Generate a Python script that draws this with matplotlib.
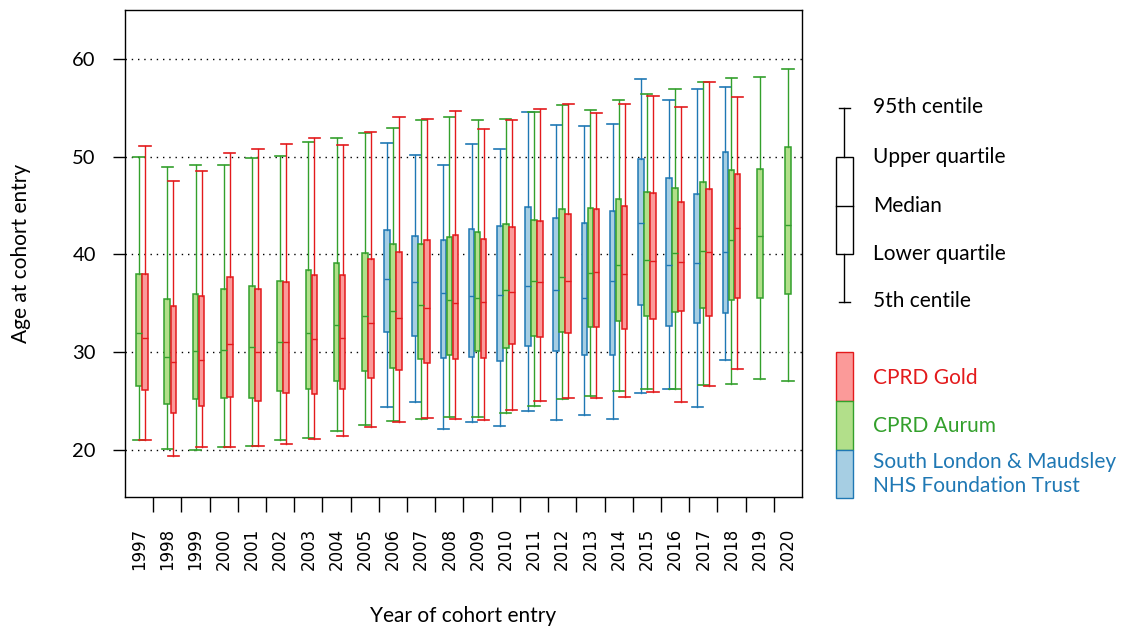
import matplotlib
matplotlib.use("Agg")
import matplotlib.pyplot as plt
from matplotlib.patches import Rectangle

years = list(range(1997, 2021))

# 5th centile, lower quartile, median, upper quartile, 95th centile by year
gold_years = list(range(1997, 2019))
gold_p95 = [51.1, 47.5, 48.5, 50.4, 50.8, 51.3, 51.9, 51.2, 52.5, 54.05, 53.9,
            54.7, 52.8, 53.8, 54.9, 55.35, 54.5, 55.4, 56.2, 55.1, 57.6, 56.1]
gold_q3 = [38.0, 34.7, 35.8, 37.7, 36.5, 37.2, 37.9, 37.9, 39.5, 40.3, 41.5,
           42.0, 41.55, 42.8, 43.4, 44.1, 44.6, 45.0, 46.3, 45.4, 46.7, 48.25]
gold_med = [31.5, 29.0, 29.2, 30.8, 30.0, 31.0, 31.4, 31.5, 33.0, 33.5, 34.5,
            35.0, 35.1, 36.2, 37.2, 37.3, 38.2, 38.0, 39.3, 39.2, 40.25, 42.7]
gold_q1 = [26.1, 23.8, 24.5, 25.4, 25.0, 25.85, 25.75, 26.2, 27.4, 28.2, 28.9,
           29.3, 29.4, 30.8, 31.6, 32.0, 32.6, 32.4, 33.4, 34.2, 33.7, 35.6]
gold_p5 = [21.0, 19.4, 20.3, 20.3, 20.4, 20.6, 21.1, 21.4, 22.4, 22.9, 23.3,
           23.15, 23.1, 24.1, 25.0, 25.3, 25.3, 25.45, 25.9, 24.9, 26.5, 28.3]

aurum_years = list(range(1997, 2021))
aurum_p95 = [50.0, 48.9, 49.1, 49.2, 49.9, 50.1, 51.5, 51.9, 52.4, 52.9, 53.8, 54.1,
             53.75, 53.9, 54.6, 55.25, 54.8, 55.75, 56.45, 56.9, 57.6, 58.0, 58.1, 59.0]
aurum_q3 = [38.0, 35.4, 36.0, 36.5, 36.8, 37.3, 38.4, 39.1, 40.1, 41.1, 41.1, 41.8,
            42.3, 43.1, 43.5, 44.6, 44.8, 45.7, 46.4, 46.75, 47.4, 48.6, 48.7, 51.0]
aurum_med = [32.0, 29.5, 30.1, 30.2, 30.5, 31.0, 32.0, 32.8, 33.7, 34.2, 34.8, 35.3,
             35.6, 36.4, 37.3, 37.7, 38.1, 38.9, 39.4, 40.1, 40.4, 41.45, 41.9, 43.0]
aurum_q1 = [26.5, 24.75, 25.2, 25.3, 25.3, 26.0, 26.2, 27.1, 28.1, 28.4, 29.3, 29.7,
            30.15, 30.4, 31.65, 32.1, 32.6, 33.2, 33.7, 34.15, 34.55, 35.3, 35.6, 36.0]
aurum_p5 = [21.0, 20.1, 20.0, 20.3, 20.4, 21.0, 21.2, 22.0, 22.6, 23.0, 23.2, 23.4,
            23.35, 23.8, 24.5, 25.2, 25.5, 26.0, 26.2, 26.25, 26.7, 26.8, 27.3, 27.1]

slam_years = list(range(2006, 2019))
slam_p95 = [51.4, 50.2, 49.2, 51.3, 50.8, 54.6, 53.2, 53.1, 53.3, 57.95, 55.75, 56.9, 57.1]
slam_q3 = [42.5, 41.9, 41.5, 42.6, 42.9, 44.9, 43.7, 43.2, 44.4, 49.8, 47.8, 46.2, 50.5]
slam_med = [37.5, 37.2, 36.1, 35.8, 35.9, 36.8, 36.4, 35.5, 37.25, 43.2, 38.9, 39.1, 40.3]
slam_q1 = [32.1, 31.7, 29.4, 29.5, 29.1, 30.6, 30.1, 29.75, 29.7, 34.8, 32.7, 32.95, 34.0]
slam_p5 = [24.4, 24.9, 22.2, 22.9, 22.5, 24.0, 23.05, 23.55, 23.2, 25.8, 26.25, 24.4, 29.2]

FONT = "Lato"
plt.rcParams["font.family"] = [FONT, "DejaVu Sans"]

fig = plt.figure(figsize=(11.3, 6.29), dpi=100)
ax = fig.add_axes([125 / 1130, 1 - 497 / 629, 677 / 1130, 487 / 629])


def draw_series(yrs, p5, q1, med, q3, p95, offset, edge, fill):
    stats = []
    for a, b, c, d, e in zip(p5, q1, med, q3, p95):
        stats.append(dict(whislo=a, q1=b, med=c, q3=d, whishi=e, fliers=[]))
    pos = [y - years[0] + 0.5 + offset for y in yrs]
    ax.bxp(stats, positions=pos, widths=0.2, capwidths=0.4, patch_artist=True,
           showfliers=False, manage_ticks=False,
           boxprops=dict(facecolor=fill, edgecolor=edge, linewidth=1.1),
           whiskerprops=dict(color=edge, linewidth=1.0),
           capprops=dict(color=edge, linewidth=1.2),
           medianprops=dict(color=edge, linewidth=1.0))


step = 0.213
draw_series(slam_years, slam_p5, slam_q1, slam_med, slam_q3, slam_p95,
            -step, "#1f78b4", "#a6cee3")
draw_series(aurum_years, aurum_p5, aurum_q1, aurum_med, aurum_q3, aurum_p95,
            0, "#33a02c", "#b2df8a")
draw_series(gold_years, gold_p5, gold_q1, gold_med, gold_q3, gold_p95,
            step, "#e31a1c", "#fb9a99")

ax.set_xlim(0, len(years))
ax.set_ylim(15.2, 65)
ax.set_yticks([20, 30, 40, 50, 60])
ax.tick_params(axis="y", length=9, width=1, pad=12, labelsize=14.5)
ax.set_xticks(range(1, len(years)))
ax.set_xticklabels([])
ax.set_xticks([i + 0.5 for i in range(len(years))], minor=True)
ax.set_xticklabels([str(y) for y in years], minor=True, rotation=90,
                   fontfamily="DejaVu Sans", fontsize=12)
ax.tick_params(axis="x", which="major", length=11, width=1)
ax.tick_params(axis="x", which="minor", length=0, pad=22)
ax.yaxis.grid(True, linestyle=(0, (1, 3.5)), color="black", linewidth=1)
ax.set_axisbelow(True)
for s in ax.spines.values():
    s.set_linewidth(1)
ax.set_ylabel("Age at cohort entry", fontsize=15, labelpad=30)
ax.set_xlabel("Year of cohort entry", fontsize=15, labelpad=26)

# key drawn in pixel coordinates to the right of the plot
key = fig.add_axes([0, 0, 1, 1])
key.set_xlim(0, 1130)
key.set_ylim(629, 0)
key.axis("off")
kx = 844
key.plot([kx, kx], [108, 157], color="black", lw=1)
key.plot([kx, kx], [254, 302], color="black", lw=1)
key.plot([kx - 5.5, kx + 5.5], [108, 108], color="black", lw=1)
key.plot([kx - 5.5, kx + 5.5], [302, 302], color="black", lw=1)
key.add_patch(Rectangle((836, 157), 17, 97, facecolor="white", edgecolor="black", lw=1))
key.plot([836, 853], [206, 206], color="black", lw=1)
for ty, txt in [(107, "95th centile"), (157, "Upper quartile"), (206, "Median"),
                (254, "Lower quartile"), (301, "5th centile")]:
    key.text(873, ty, txt, fontsize=15, va="center", ha="left")

for y0, y1, edge, fill in [(352, 401, "#e31a1c", "#fb9a99"),
                           (401, 450, "#33a02c", "#b2df8a"),
                           (450, 498, "#1f78b4", "#a6cee3")]:
    key.add_patch(Rectangle((836, y0), 17, y1 - y0, facecolor=fill, edgecolor=edge, lw=1))
key.text(873, 378, "CPRD Gold", color="#e31a1c", fontsize=15, va="center")
key.text(873, 426, "CPRD Aurum", color="#33a02c", fontsize=15, va="center")
key.text(873, 474, "South London & Maudsley\nNHS Foundation Trust", color="#1f78b4",
         fontsize=15, va="center", linespacing=1.25)

fig.savefig("out.png", dpi=100)
